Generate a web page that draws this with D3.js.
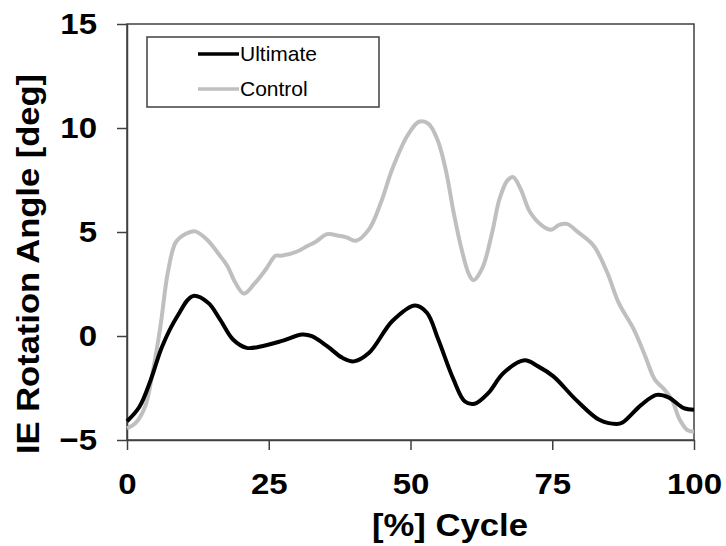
<!DOCTYPE html>
<html>
<head>
<meta charset="utf-8">
<script src="https://cdn.jsdelivr.net/npm/d3@7"></script>
<style>
  body { margin: 0; background: #fff; }
  svg { display: block; font-family: "Liberation Sans", Arial, sans-serif; }
</style>
</head>
<body>
<div id="wrapper"></div>
<script>
// series: x = [%] cycle, y = IE rotation angle [deg]
const ultimateX = [0, 2.2, 4.2, 6.2, 8.9, 11.6, 14.3, 16.4, 18.7, 21.1, 23.8, 27.2, 30.9, 32.6, 35.3, 38, 40, 42.7, 46.8, 50.8, 52.9, 54.9, 57.6, 59.6, 61.3, 63.7, 66.4, 70.1, 72.5, 75.2, 79.2, 83.3, 86.3, 87.4, 90.7, 93.4, 95.5, 98.2, 100]
const ultimateY = [-4.1, -3.4, -2.1, -0.5, 0.96, 1.92, 1.6, 0.8, -0.17, -0.57, -0.49, -0.25, 0.07, -0.01, -0.49, -1.05, -1.22, -0.81, 0.72, 1.47, 1.12, -0.17, -2.1, -3.15, -3.26, -2.75, -1.78, -1.17, -1.46, -1.94, -3.07, -4.03, -4.23, -4.16, -3.31, -2.83, -2.95, -3.47, -3.55]

const controlX = [0, 1.5, 3.2, 4.5, 5.9, 7.2, 8.6, 10.3, 12, 14, 16.4, 17.7, 19.1, 20.6, 22.4, 24.5, 26.2, 27.2, 29.9, 31.9, 33.3, 35.3, 37.3, 38.7, 40.4, 42.7, 44.8, 46.8, 49.5, 51.5, 53.2, 54.9, 56.3, 57.6, 59, 60.3, 61.1, 62.7, 64.4, 65.7, 67.1, 68.1, 69.4, 71.1, 73.2, 74.8, 76.2, 77.6, 79.6, 82.3, 84.7, 86.7, 89.4, 91.4, 93.1, 94.8, 96.1, 97.5, 98.8, 100]
const controlY = [-4.44, -4.19, -3.39, -1.78, 0.47, 3.05, 4.5, 4.9, 5.03, 4.66, 3.86, 3.37, 2.57, 2.04, 2.49, 3.21, 3.86, 3.86, 4.05, 4.34, 4.53, 4.9, 4.82, 4.74, 4.58, 5.14, 6.43, 8.04, 9.65, 10.3, 10.2, 9.33, 7.88, 5.95, 4.18, 2.97, 2.68, 3.29, 4.98, 6.59, 7.48, 7.64, 7.08, 5.95, 5.31, 5.11, 5.34, 5.39, 4.98, 4.34, 3.05, 1.6, 0.31, -0.97, -2.1, -2.58, -3.07, -4.03, -4.52, -4.6]

const xTicks = [0, 25, 50, 75, 100]
const yTicks = [-5, 0, 5, 10, 15]
const seriesNames = ['Ultimate', 'Control']
const seriesColors = ['#000000', '#bfbfbf']

function renderChart (wrapper) {
  const width = 726
  const height = 546
  const left = 127
  const right = 694
  const top = 24
  const bottom = 440
  const axisColor = '#404040'
  const stretch = 1.1 // tick font in the picture is a bit wider than Arial

  const svg = d3.select(wrapper).append('svg')
    .attr('width', width)
    .attr('height', height)

  const x = d3.scaleLinear().domain([0, 100]).range([left, right])
  const y = d3.scaleLinear().domain([-5, 15]).range([bottom, top])

  // frame
  svg.append('rect')
    .attr('x', left).attr('y', top)
    .attr('width', right - left).attr('height', bottom - top)
    .attr('fill', 'none')
    .attr('stroke', axisColor)
    .attr('stroke-width', 1.5)

  const xAxis = svg.append('g')
    .attr('transform', 'translate(0,' + bottom + ')')
    .call(d3.axisBottom(x).tickValues(xTicks).tickSize(10).tickPadding(23).tickSizeOuter(0))
  const yAxis = svg.append('g')
    .attr('transform', 'translate(' + left + ',0)')
    .call(d3.axisLeft(y).tickValues(yTicks).tickSize(10).tickPadding(20).tickSizeOuter(0))

  for (const ax of [xAxis, yAxis]) {
    ax.select('.domain').attr('stroke', axisColor).attr('stroke-width', 1.5)
    ax.selectAll('.tick line').attr('stroke', axisColor).attr('stroke-width', 1.5)
    ax.selectAll('.tick text')
      .attr('fill', '#000')
      .style('font-family', '"Liberation Sans", Arial, sans-serif')
      .style('font-size', '30px')
      .style('font-weight', 'bold')
      .attr('transform', 'scale(' + stretch + ',1)')
  }
  yAxis.selectAll('.tick text').attr('x', -30 / stretch)

  // lines
  const line = d3.line()
    .x(d => x(d[0]))
    .y(d => y(d[1]))
    .curve(d3.curveCatmullRom.alpha(0.5))

  const series = [
    d3.zip(controlX, controlY),
    d3.zip(ultimateX, ultimateY)
  ]
  const order = [1, 0]
  series.forEach((pts, i) => {
    svg.append('path')
      .datum(pts)
      .attr('fill', 'none')
      .attr('stroke', seriesColors[order[i]])
      .attr('stroke-width', 4)
      .attr('stroke-linejoin', 'round')
      .attr('d', line)
  })

  // axis titles
  svg.append('text')
    .attr('x', 450).attr('y', 536)
    .attr('text-anchor', 'middle')
    .attr('textLength', 156)
    .attr('lengthAdjust', 'spacingAndGlyphs')
    .style('font-size', '32px').style('font-weight', 'bold')
    .text('[%] Cycle')
  svg.append('text')
    .attr('transform', 'translate(39,264) rotate(-90)')
    .attr('text-anchor', 'middle')
    .attr('textLength', 380)
    .attr('lengthAdjust', 'spacingAndGlyphs')
    .style('font-size', '32px').style('font-weight', 'bold')
    .text('IE Rotation Angle [deg]')

  // legend
  const legend = svg.append('g')
  legend.append('rect')
    .attr('x', 147).attr('y', 37)
    .attr('width', 232).attr('height', 70)
    .attr('fill', '#fff')
    .attr('stroke', axisColor)
    .attr('stroke-width', 1.5)
  seriesNames.forEach((name, i) => {
    const ly = 54 + i * 35
    legend.append('line')
      .attr('x1', 198).attr('x2', 239)
      .attr('y1', ly).attr('y2', ly)
      .attr('stroke', seriesColors[i])
      .attr('stroke-width', 3.5)
    legend.append('text')
      .attr('x', 240).attr('y', ly)
      .attr('dy', '0.35em')
      .style('font-size', '21px')
      .text(name)
  })
}

document.addEventListener('DOMContentLoaded', () => {
  renderChart(document.querySelector('#wrapper'))
})
</script>
</body>
</html>
